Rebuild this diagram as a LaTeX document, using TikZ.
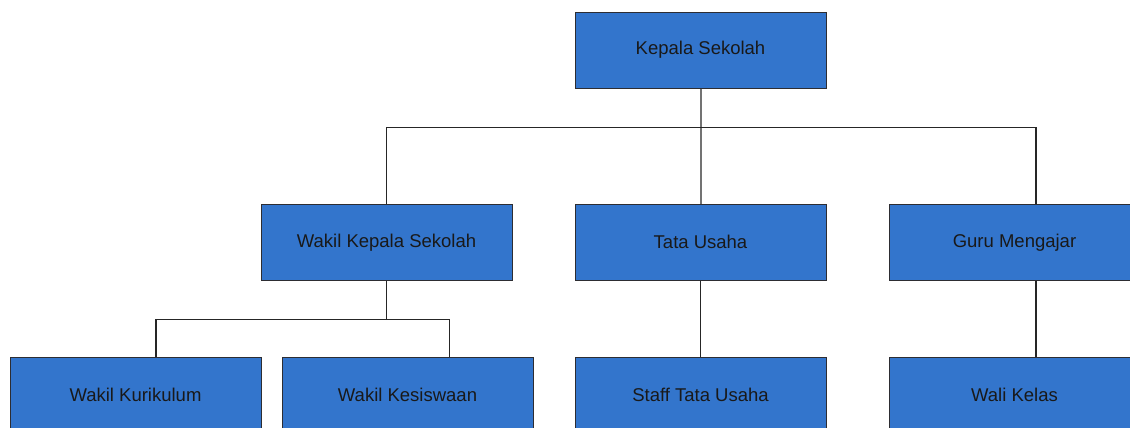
\documentclass[tikz,border=0pt]{standalone}
\usepackage{fontspec}
\setmainfont{Liberation Sans}
\definecolor{boxblue}{RGB}{51,117,204}
\definecolor{boxline}{RGB}{45,45,50}
\tikzset{
	orgbox/.style={draw=boxline,fill=boxblue,line width=1pt,minimum width=251pt,minimum height=76pt,inner sep=0pt,font=\fontsize{18.5}{21}\selectfont,text=black!90},
	tie/.style={draw=black!85,line width=1.2pt},
	maintie/.style={draw=black!55,line width=2pt}
}
\begin{document}
\begin{tikzpicture}[x=1pt,y=1pt]
	\useasboundingbox (0,0) rectangle (1130,-428);
	\clip (0,0) rectangle (1130,-428);
	
	\node[orgbox] (kepala) at (700.5,-50.2) {Kepala Sekolah};
	
	\node[orgbox] (wakilks) at (386.5,-242.3) {Wakil Kepala Sekolah};
	\node[orgbox] (tatausaha) at (700.5,-242.3) {Tata Usaha};
	\node[orgbox] (guru) at (1014.5,-242.3) {Guru Mengajar};
	
	\node[orgbox] (kurikulum) at (135.5,-395.3) {Wakil Kurikulum};
	\node[orgbox] (kesiswaan) at (407.5,-395.3) {Wakil Kesiswaan};
	\node[orgbox] (staff) at (700.5,-395.3) {Staff Tata Usaha};
	\node[orgbox] (walikelas) at (1014.5,-395.3) {Wali Kelas};
	
	% level 1
	\draw[maintie] (kepala.south) -- (tatausaha.north);
	\draw[tie] (wakilks.north) |- (700.5,-127.3) -| ([xshift=21.5pt]guru.north);
	
	% level 2
	\draw[tie] ([xshift=20.5pt]kurikulum.north) |- (386.5,-319.3) -| ([xshift=41.8pt]kesiswaan.north);
	\draw[tie] (wakilks.south) -- (386.5,-319.3);
	\draw[tie] (tatausaha.south) -- (staff.north);
	\draw[tie] ([xshift=21.5pt]guru.south) -- ([xshift=21.5pt]walikelas.north);
	
	\end{tikzpicture}
\end{document}
